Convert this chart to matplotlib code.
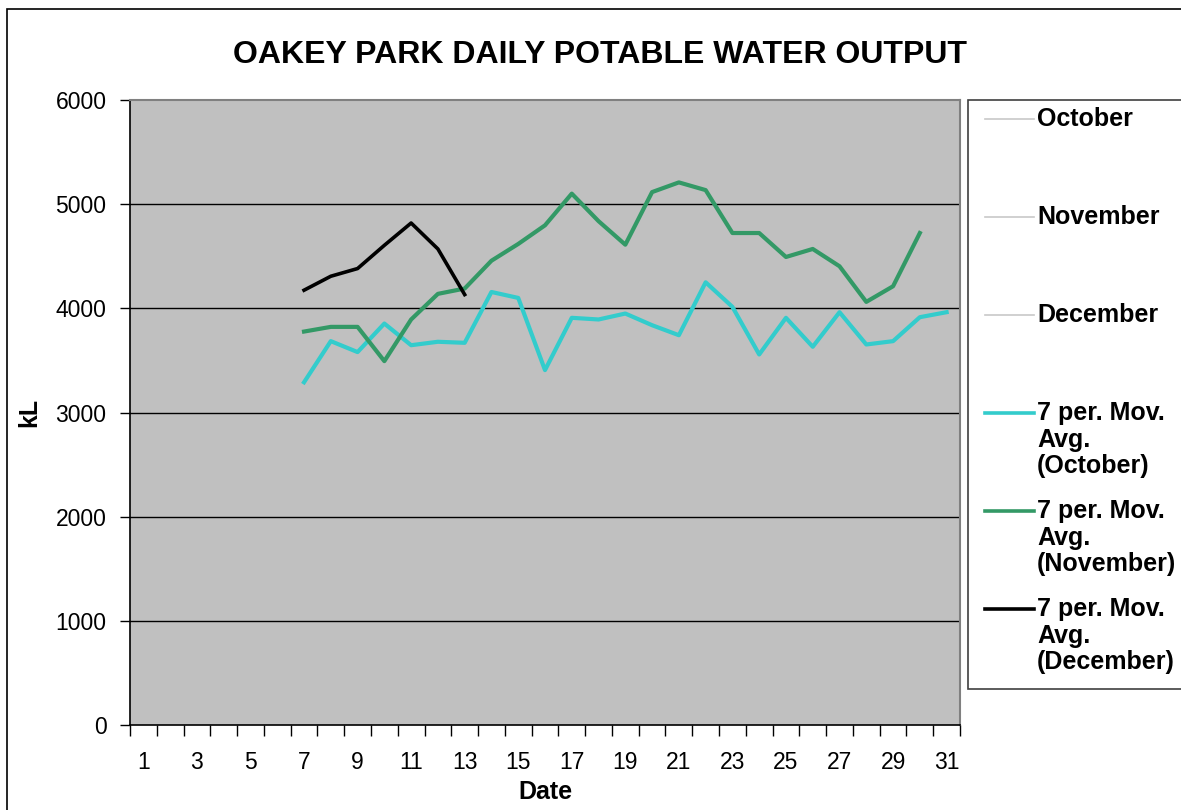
import matplotlib.pyplot as plt
import numpy as np
from matplotlib.lines import Line2D
from matplotlib.patches import Rectangle

plt.rcParams['font.family'] = ['Liberation Sans', 'DejaVu Sans']

# days of month shown on the category axis
days = list(range(1, 32))
tick_days = [str(d) if d % 2 == 1 else '' for d in days]

# 7 period moving averages, start on day 7
oct_days = list(range(7, 32))
oct_ma = [3290, 3685, 3580, 3854, 3646, 3679, 3669, 4157, 4100, 3407, 3909, 3893,
          3950, 3838, 3742, 4250, 4014, 3557, 3909, 3631, 3963, 3653, 3685, 3915, 3963]
nov_days = list(range(7, 31))
nov_ma = [3777, 3822, 3822, 3493, 3893, 4139, 4190, 4457, 4618, 4797, 5101, 4837,
          4611, 5116, 5209, 5135, 4723, 4723, 4493, 4570, 4404, 4062, 4212, 4723]
dec_days = list(range(7, 14))
dec_ma = [4174, 4308, 4382, 4605, 4819, 4570, 4132]

legend_labels = ['October', 'November', 'December',
                 '7 per. Mov.\nAvg.\n(October)',
                 '7 per. Mov.\nAvg.\n(November)',
                 '7 per. Mov.\nAvg.\n(December)']
legend_colors = ['#c8c8c8', '#c8c8c8', '#c8c8c8', '#33cccc', '#339966', '#000000']

fig = plt.figure(figsize=(11.81, 8.10), dpi=100)
ax = fig.add_axes([130/1181, 85/810, 830/1181, 625/810])
ax.set_facecolor('#c0c0c0')

for y in range(1000, 6000, 1000):
    ax.axhline(y, color='black', lw=1, zorder=1)

ax.plot(oct_days, oct_ma, color='#33cccc', lw=3, zorder=3)
ax.plot(nov_days, nov_ma, color='#339966', lw=3, zorder=3)
ax.plot(dec_days, dec_ma, color='black', lw=2.6, zorder=4)

ax.set_xlim(0.5, 31.5)
ax.set_ylim(0, 6000)
ax.set_yticks(range(0, 7000, 1000))
ax.set_xticks(days)
ax.set_xticklabels(tick_days)
ax.set_xticks(np.arange(0.5, 32, 1), minor=True)
ax.tick_params(axis='x', which='major', length=0, pad=19, labelsize=16.5)
ax.tick_params(axis='x', which='minor', length=8, width=1, color='black')
ax.tick_params(axis='y', length=7, width=1, pad=10, labelsize=16.5)

for side in ['top', 'right']:
    ax.spines[side].set_color('#808080')
    ax.spines[side].set_linewidth(1.5)
for side in ['left', 'bottom']:
    ax.spines[side].set_color('black')
    ax.spines[side].set_linewidth(1.2)

ax.set_xlabel('Date', fontsize=18, fontweight='bold', labelpad=4)
ax.set_ylabel('kL', fontsize=18, fontweight='bold', labelpad=10)

fig.text(0.508, 1 - 55/810, 'OAKEY PARK DAILY POTABLE WATER OUTPUT', ha='center', va='center',
         fontsize=23, fontweight='bold')

# outer chart frame
fig.patches.append(Rectangle((7/1181, -0.1), 1.2, 1.1 - 9/810, transform=fig.transFigure,
                             fill=False, edgecolor='black', lw=1.2))

# legend box
fig.patches.append(Rectangle((968/1181, 1 - 689/810), 0.3, 589/810, transform=fig.transFigure,
                             facecolor='white', edgecolor='#404040', lw=1.2))
for i, (lab, col) in enumerate(zip(legend_labels, legend_colors)):
    yy = 1 - (119 + i * 98) / 810
    lw = 1.2 if i < 3 else 2.6
    fig.lines.append(Line2D([985/1181, 1034/1181], [yy, yy], transform=fig.transFigure,
                            color=col, lw=lw))
    fig.text(1037/1181, yy + 12/810, lab, ha='left', va='top', fontsize=18,
             fontweight='bold', linespacing=1.14)

fig.savefig('out.png', dpi=100)
